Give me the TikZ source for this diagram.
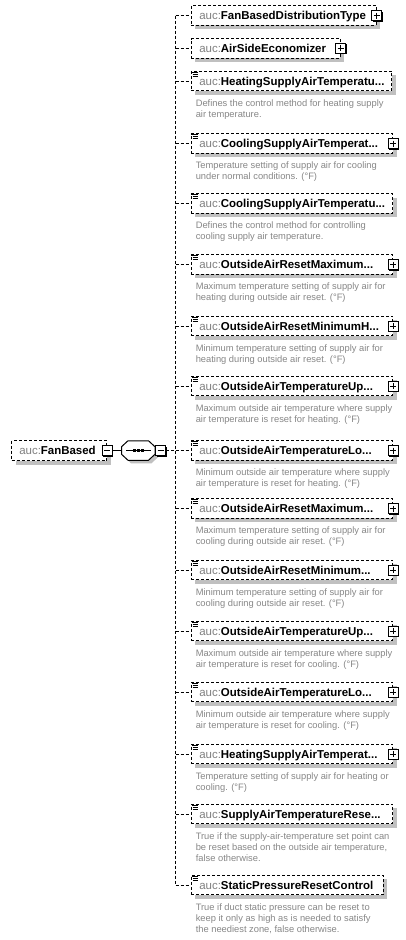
\documentclass[tikz,border=0pt]{standalone}
\usepackage{fontspec}
\setmainfont{Liberation Sans}
\usetikzlibrary{shadows}
\definecolor{shadowgray}{RGB}{192,192,192}
\definecolor{prefixgray}{RGB}{128,128,128}
\definecolor{descgray}{RGB}{135,135,135}
\tikzset{
  dashline/.style={line width=0.75pt, dash pattern=on 2.25pt off 1.5pt},
  solidline/.style={line width=0.75pt},
  elembox/.style={draw=black, line width=0.75pt, dash pattern=on 2.25pt off 1.5pt,
    fill=white, minimum height=14.625pt, inner sep=0pt, anchor=west,
    general shadow={shadow xshift=3pt, shadow yshift=-3pt, fill=shadowgray, draw=none}},
  plusbox/.style={draw=black, line width=0.75pt, fill=white, minimum size=7.5pt, inner sep=0pt,
    general shadow={shadow xshift=0.75pt, shadow yshift=-0.75pt, fill=black, draw=none}},
  signline/.style={line width=0.75pt},
  iconline/.style={line width=0.75pt},
  labeltext/.style={anchor=base west, inner sep=0pt, font=\fontsize{8.6pt}{10pt}\selectfont},
  desctext/.style={anchor=base west, inner sep=0pt, text=descgray, font=\fontsize{7pt}{8pt}\selectfont}
}
\newcommand{\childel}[6]{%
  \coordinate (v#1) at (175.5,#2);
  \node[elembox, minimum width=#3] (c#1) at (190.5,#2) {};
  \draw[dashline] (v#1) -- (c#1.west);
  \node[labeltext] (l#1) at (199,#2+4) {\textcolor{prefixgray}{auc:}\textbf{#4}};
  \ifnum#5=1
    \node[plusbox] (p#1) at (c#1.east) {};
    \draw[signline] (p#1.center) +(-3,0) -- +(3,0) (p#1.center) +(0,-3) -- +(0,3);
  \fi
  \ifnum#6=1
    \draw[iconline] ([shift={(1,1.5)}]c#1.north west) -- ++(6,0)
      ([shift={(2,3.5)}]c#1.north west) -- ++(5,0)
      ([shift={(2,5.5)}]c#1.north west) -- ++(5,0);
  \fi
}
\newcommand{\desctwo}[4]{%
  \node[desctext] (d#1a) at (195.5,#2+25) {#3};
  \node[desctext] (d#1b) at (195.5,#2+36) {#4};
}
\newcommand{\descthree}[5]{%
  \node[desctext] (d#1a) at (195.5,#2+25) {#3};
  \node[desctext] (d#1b) at (195.5,#2+36) {#4};
  \node[desctext] (d#1c) at (195.5,#2+47) {#5};
}
\newcommand{\octpath}[2]{(#1-16.75,#2-3.75) -- (#1-10.25,#2-9.75) -- (#1+10.25,#2-9.75) -- (#1+16.75,#2-3.75) -- (#1+16.75,#2+3.75) -- (#1+10.25,#2+9.75) -- (#1-10.25,#2+9.75) -- (#1-16.75,#2+3.75) -- cycle}
\begin{document}
\begin{tikzpicture}[x=0.75pt,y=-0.75pt]
\useasboundingbox[fill=white] (0,0) rectangle (406,940);

% vertical spine
\coordinate (vtop) at (175.5,15.5);
\coordinate (vbot) at (175.5,885);
\draw[dashline] (vtop) -- (vbot);

% main element
\node[elembox, minimum width=71.25pt, minimum height=15pt] (fb) at (11,450.5) {};
\node[labeltext] (fbl) at (19,454.5) {\textcolor{prefixgray}{auc:}\textbf{FanBased}};
\node[plusbox] (fbm) at (fb.east) {};
\draw[signline] (fbm.center) +(-3,0) -- +(3,0);

% sequence compositor
\node[inner sep=0pt, minimum width=25.125pt, minimum height=14.625pt] (seq) at (138.25,450.5) {};
\fill[shadowgray] \octpath{141.25}{453.5};
\draw[solidline, fill=white] \octpath{138.25}{450.5};
\draw[solidline] (seq.center) +(-12,0) -- +(13,0);
\fill (seq.center) +(-5.5,-1.5) rectangle +(-2.5,1.5);
\fill (seq.center) +(-1.5,-1.5) rectangle +(1.5,1.5);
\fill (seq.center) +(2.5,-1.5) rectangle +(5.5,1.5);
\node[plusbox] (sqm) at (160.5,450.5) {};
\draw[signline] (sqm.center) +(-3,0) -- +(3,0);
\coordinate (vmain) at (175.5,450.5);
\draw[solidline] (fbm.east) -- (seq.west);
\draw[dashline] (sqm.east) -- (vmain);

% children
\childel{1}{15.5}{138.75pt}{FanBasedDistributionType}{1}{0}
\childel{2}{48.3}{111.75pt}{AirSideEconomizer}{1}{0}
\childel{3}{81}{150.375pt}{HeatingSupplyAirTemperatu...}{0}{1}
\desctwo{3}{81}{Defines the control method for heating supply}{air temperature.}
\childel{4}{143.5}{151.125pt}{CoolingSupplyAirTemperat...}{1}{1}
\desctwo{4}{143.5}{Temperature setting of supply air for cooling}{under normal conditions. (°F)}
\childel{5}{203.5}{151.125pt}{CoolingSupplyAirTemperatu...}{0}{1}
\desctwo{5}{203.5}{Defines the control method for controlling}{cooling supply air temperature.}
\childel{6}{264.5}{151.125pt}{OutsideAirResetMaximum...}{1}{1}
\desctwo{6}{264.5}{Maximum temperature setting of supply air for}{heating during outside air reset. (°F)}
\childel{7}{326}{151.125pt}{OutsideAirResetMinimumH...}{1}{1}
\desctwo{7}{326}{Minimum temperature setting of supply air for}{heating during outside air reset. (°F)}
\childel{8}{386}{151.125pt}{OutsideAirTemperatureUp...}{1}{1}
\desctwo{8}{386}{Maximum outside air temperature where supply}{air temperature is reset for heating. (°F)}
\childel{9}{450.5}{151.125pt}{OutsideAirTemperatureLo...}{1}{1}
\desctwo{9}{450.5}{Minimum outside air temperature where supply}{air temperature is reset for heating. (°F)}
\childel{10}{508.5}{151.125pt}{OutsideAirResetMaximum...}{1}{1}
\desctwo{10}{508.5}{Maximum temperature setting of supply air for}{cooling during outside air reset. (°F)}
\childel{11}{570}{151.125pt}{OutsideAirResetMinimum...}{1}{1}
\desctwo{11}{570}{Minimum temperature setting of supply air for}{cooling during outside air reset. (°F)}
\childel{12}{631}{151.125pt}{OutsideAirTemperatureUp...}{1}{1}
\desctwo{12}{631}{Maximum outside air temperature where supply}{air temperature is reset for cooling. (°F)}
\childel{13}{692}{151.125pt}{OutsideAirTemperatureLo...}{1}{1}
\desctwo{13}{692}{Minimum outside air temperature where supply}{air temperature is reset for cooling. (°F)}
\childel{14}{754}{151.125pt}{HeatingSupplyAirTemperat...}{1}{1}
\desctwo{14}{754}{Temperature setting of supply air for heating or}{cooling. (°F)}
\childel{15}{814}{151.125pt}{SupplyAirTemperatureRese...}{0}{1}
\descthree{15}{814}{True if the supply-air-temperature set point can}{be reset based on the outside air temperature,}{false otherwise.}
\childel{16}{885}{144pt}{StaticPressureResetControl}{0}{1}
\descthree{16}{885}{True if duct static pressure can be reset to}{keep it only as high as is needed to satisfy}{the neediest zone, false otherwise.}
\end{tikzpicture}
\end{document}
